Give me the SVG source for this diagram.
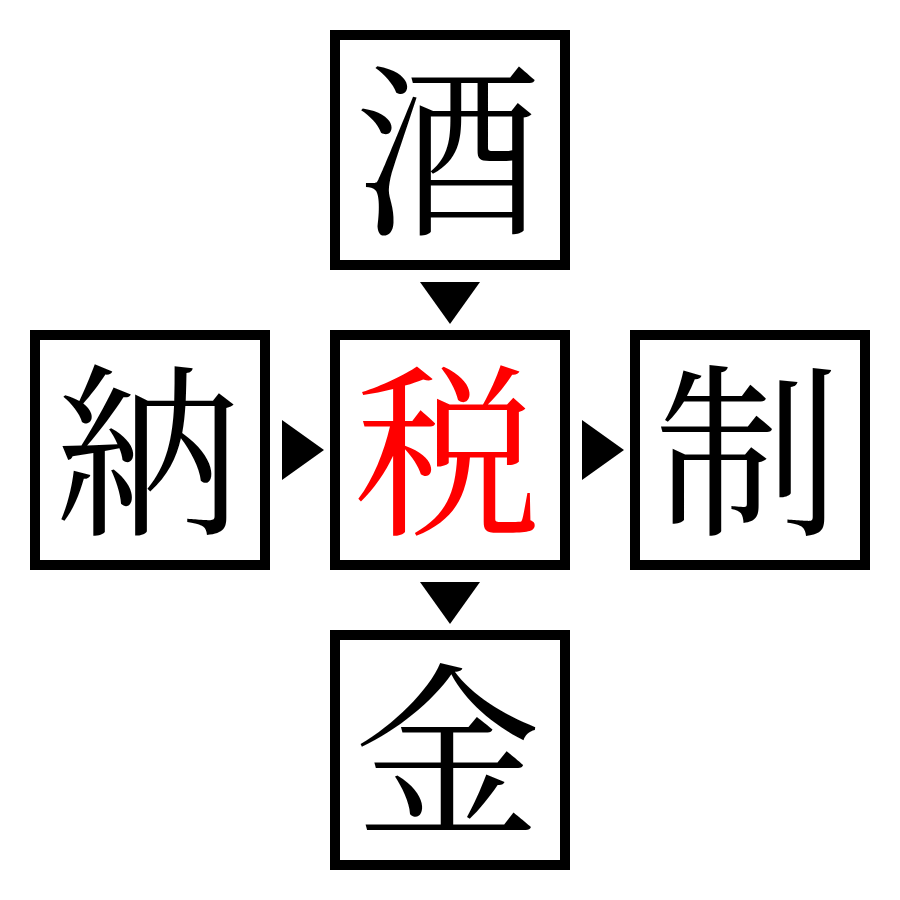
<svg xmlns="http://www.w3.org/2000/svg" width="900" height="900" viewBox="0 0 900 900">
<style>
.box{fill:#fff;stroke:#000;stroke-width:10}
.k{font-family:"Noto Serif CJK JP","Noto Sans CJK JP",serif;font-size:186px;text-anchor:middle;fill:#000}
.red{fill:#f00}
.arr{fill:#000}
</style>
<rect width="900" height="900" fill="#fff"/>
<g id="connectors">
<polygon class="arr" points="420,282 480,282 450,324"/>
<polygon class="arr" points="282,420 282,480 324,450"/>
<polygon class="arr" points="582,420 582,480 624,450"/>
<polygon class="arr" points="420,582 480,582 450,624"/>
</g>
<g id="node-sake"><rect class="box" x="335" y="35" width="230" height="230"/><text class="k" x="448" y="221">酒</text></g>
<g id="node-nou"><rect class="box" x="35" y="335" width="230" height="230"/><text class="k" x="148" y="521">納</text></g>
<g id="node-zei"><rect class="box" x="335" y="335" width="230" height="230"/><text class="k red" x="448" y="521">税</text></g>
<g id="node-sei"><rect class="box" x="635" y="335" width="230" height="230"/><text class="k" x="748" y="521">制</text></g>
<g id="node-kin"><rect class="box" x="335" y="635" width="230" height="230"/><text class="k" x="448" y="821">金</text></g>
</svg>
